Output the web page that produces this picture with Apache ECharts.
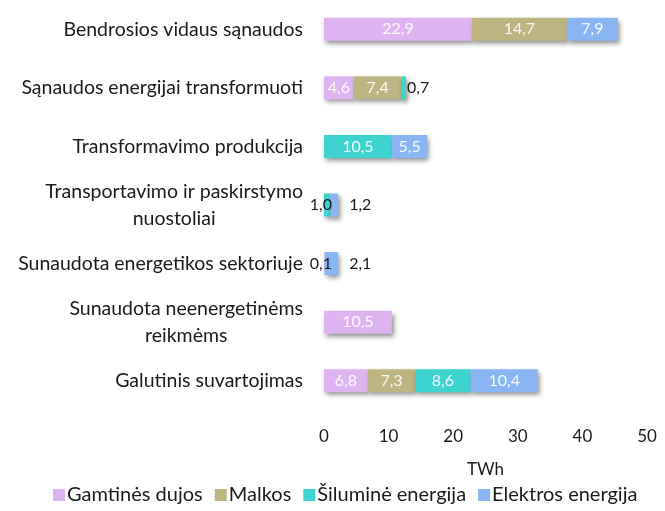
<!DOCTYPE html>
<html>
<head>
<meta charset="utf-8">
<script src="https://cdn.jsdelivr.net/npm/echarts@6/dist/echarts.min.js"></script>
<style>
  html, body { margin: 0; padding: 0; background: #fff; }
  #chart { width: 665px; height: 511px; }
</style>
</head>
<body>
<div id="chart"></div>
<script>
// kategorijos (iš viršaus į apačią)
var categories = [
  'Bendrosios vidaus sąnaudos',
  'Sąnaudos energijai transformuoti',
  'Transformavimo produkcija',
  'Transportavimo ir paskirstymo\nnuostoliai',
  'Sunaudota energetikos sektoriuje',
  'Sunaudota neenergetinėms\nreikmėms',
  'Galutinis suvartojimas'
];
var seriesNames = ['Gamtinės dujos', 'Malkos', 'Šiluminė energija', 'Elektros energija'];
var seriesColors = ['#DDB4EF', '#BDB683', '#3DD3CF', '#89B6F3'];
// TWh
var dujos = [22.9, 4.6, 0, 0, 0.1, 10.5, 6.8];
var malkos = [14.7, 7.4, 0, 0, 0, 0, 7.3];
var siluma = [0, 0.7, 10.5, 1.0, 0, 0, 8.6];
var elektra = [7.9, 0, 5.5, 1.2, 2.1, 0, 10.4];
var xTicks = [0, 10, 20, 30, 40, 50];

var allValues = [dujos, malkos, siluma, elektra];
var font = 'Lato';
var textColor = '#1a1a1a';

function fmt(v) {
  return v.toFixed(1).replace('.', ',');
}

function isFirst(si, ci) {
  for (var j = 0; j < si; j++) if (allValues[j][ci]) return false;
  return true;
}
function isLast(si, ci) {
  for (var k = si + 1; k < allValues.length; k++) if (allValues[k][ci]) return false;
  return true;
}

// mazos reiksmes (< 3) rodomos uz stulpelio ribu
function buildData(si) {
  return allValues[si].map(function (v, ci) {
    if (!v) return null;
    if (v >= 3) return v;
    var lbl = { color: textColor };
    if (isFirst(si, ci) && !isLast(si, ci)) {
      lbl.position = 'left';
      lbl.distance = -8;
    } else {
      // jei eilutes pradzioje yra isorine etikete, atitraukti
      var leftOutside = false;
      for (var j = 0; j < si; j++) {
        if (allValues[j][ci] && allValues[j][ci] < 3 && isFirst(j, ci)) leftOutside = true;
      }
      lbl.position = 'right';
      lbl.distance = leftOutside ? 11 : 1;
    }
    return { value: v, label: lbl };
  });
}

var series = seriesNames.map(function (name, si) {
  return {
    name: name,
    type: 'bar',
    stack: 'viso',
    barWidth: 23,
    data: buildData(si),
    itemStyle: {
      color: seriesColors[si],
      shadowColor: 'rgba(0,0,0,0.45)',
      shadowBlur: 5,
      shadowOffsetX: 2,
      shadowOffsetY: 3
    },
    label: {
      show: true,
      position: 'inside',
      color: 'rgba(255,255,255,0.92)',
      fontFamily: font,
      fontSize: 16,
      formatter: function (p) { return fmt(p.value); }
    }
  };
});

var myChart = echarts.init(document.getElementById('chart'));
myChart.setOption({
  animation: false,
  textStyle: { fontFamily: font },
  grid: { left: 324, right: 18, top: -4, height: 414 },
  legend: {
    data: seriesNames,
    bottom: 1,
    left: 48,
    icon: 'rect',
    itemWidth: 12,
    itemHeight: 12,
    itemGap: 12,
    textStyle: { fontSize: 20, color: textColor, fontFamily: font, padding: [0, 0, 0, -3] }
  },
  xAxis: {
    type: 'value',
    min: 0,
    max: 50,
    interval: 10,
    name: 'TWh',
    nameLocation: 'middle',
    nameGap: 51,
    nameTextStyle: { fontSize: 17, color: textColor, fontFamily: font },
    axisLine: { show: false },
    axisTick: { show: false },
    splitLine: { show: false },
    axisLabel: {
      margin: 18,
      fontSize: 17,
      color: textColor,
      fontFamily: font,
      formatter: function (v) { return xTicks.indexOf(v) >= 0 ? String(v) : ''; }
    }
  },
  yAxis: {
    type: 'category',
    inverse: true,
    data: categories,
    axisLine: { show: false },
    axisTick: { show: false },
    axisLabel: {
      margin: 21,
      formatter: function (v) { return '{c|' + v + '}'; },
      rich: {
        c: { align: 'center', fontSize: 19.5, color: textColor, fontFamily: font, lineHeight: 27 }
      }
    }
  },
  series: series
});
</script>
</body>
</html>
